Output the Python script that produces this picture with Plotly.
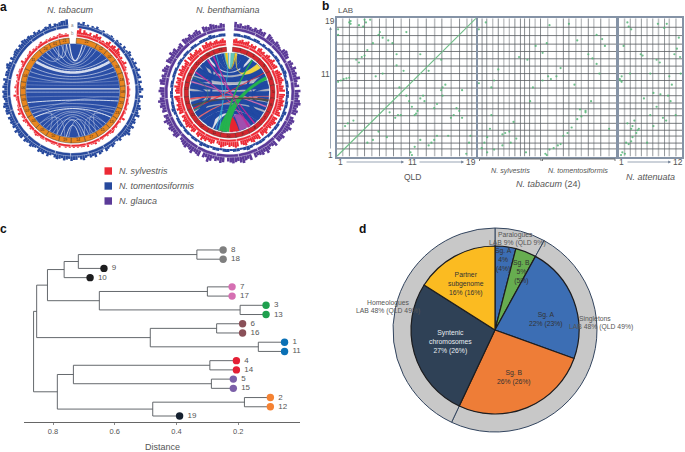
import math
import plotly.graph_objects as go

W, H = 685, 452
FONT = "Liberation Sans"
TXT = "#555555"

# ---------- panel a data ----------
tab_blue = [4,3,5,2,3,1,3,2,4,2,2,3,1,2,2,3,2,1,3,2,3,1,4,2,3,5,4,2,4,3,5,3,4,6,3,4,5,2,5,3,4,6,4,2,6,3,4,3,5,6,4,5,7,3,5,6,4,7,5,6,8,5,4,3,5,3,2,4,5,3,4,5,2,4,5,3,6,4,5,3,4,6,5,3,5,5,6,4,5,6,4,5,6,5,3,4,6,4,6,5,6,3,4,5,6,4,5,6,3,6,6,5,7,4,6,5,6,5,6,3,6,6,5,7,6,4,5,6,5,6,4,6,5,4,6,3,5,5,4,6,7,5,3,6,4,5,6,6,4,6,5,7,6,5,6,5,4,6,4,5,3,4,5,4,6,3,5,4,5,6,6,7]
tab_red = [5,7,3,6,4,3,5,2,4,6,4,5,2,3,2,4,6,3,5,6,4,7,5,4,3,4,2,3,5,2,3,2,1,2,1,1,2,1,2,1,1,2,1,1,2,1,1,1,2,1,1,2,1,2,1,1,4,1,2,1,1,2,1,2,3,2,1,2,1,1,2,1,2,1,3,2,2,1,3,1,2,2,1,2,1,2,1,2,1,2,1,1,3,2,1,2,2,1,1,2,1,2,2,1,2,3,2,1,1,2,1,2,1,2,3,1,2,1,4,2,3,2,2,1,1,2,2,4,1,2,1,3,2,1,2,1,2,3,1,2,2,1,1,2,4,1,2,1,2,2,3,1,2,1,2,1,2,3,1,1,2,1,2,1,2,1,2,3,2,1,2,1]
ben_purple = [7,5,6,4,5,6,5,4,6,5,7,5,6,1,7,6,5,4,6,5,4,3,6,7,6,5,1,5,6,4,7,5,6,5,8,5,4,6,1,7,5,6,5,7,8,6,5,7,6,1,5,7,6,5,8,6,5,4,7,6,6,1,7,5,4,6,8,5,7,6,5,6,1,7,5,6,8,7,5,6,7,6,5,1,6,7,5,6,4,7,9,5,6,1,7,6,5,8,6,5,7,6,5,4,1,6,7,5,6,7,5,6,8,5,6,1,6,5,7,6,8,6,4,5,7,6,1,6,7,5,6,4,7,6,5,1,7,6,5,8,6,7,4,5,6,1,7,6,5,7,5,6,7,5,1,7,6,5,7,6,5,4,6,5]
ben_blue = [3,3,2,3,3,2,3,3,2,3,2,3,3,2,3,3,2,3,3,4,3,2,3,3,2,3,3,2,3,3,2,4,3,3,2,3,3,2,3,3,2,3,3,3,2,3,4,3,2,3,3,2,3,3,2,3,3,2,3,3,4,2,3,3,2,3,3,2,3,3,3,2,3,4,3,3,2,3,3,2,3,3,2,3,3,3,2,3,3,2,3,3,2,3,3,2,3,3,3,4,3,2,3,3]
ben_red = [5,6,4,5,6,4,5,6,3,5,4,5,1,5,6,4,5,3,5,6,4,5,7,4,5,6,1,5,6,7,5,6,7,5,4,6,5,7,1,7,6,5,7,6,7,5,6,4,6,7,1,6,5,7,6,5,6,4,5,7,5,6,1,7,6,5,7,6,4,5,7,6,5,1,6,7,6,5,6,4,5,6,7,5,4,1,5,6,5,4,6,5,7,4,6,5,1,5,6,4,5,7,6,5,6,4,5,1,6,5,7,5,6,4,5,6,7,1,5,6,5,7,4,6,5,6,1,6,5,7,5,6,4,5,7,1,6,5,7,4,5,6,4,5,1,6,5,7,5,6,4,5,6,4,5,6,4]

tab_labels = ["22","12","02","16","18","08","20","23","13","15","17","14","19","10","05","03","07","09","06","04","11","24","01","21"]
tab_sizes = [24,13,14,16,15,13,13,12,13,16,15,16,14,15,14,15,13,13,15,15,26,13,12,11]
ben_labels = [str(i) for i in range(1, 20)]
ben_sizes = [20,18,20,18,17,19,19,18,18,20,18,19,18,17,19,19,18,18,17]

tab_white_start = [-52,-47,-60,-66,-72,-88,-92,-105,-112,-120,-125,-4,-8,-14,-22,-30,-35,-25,-35,-42,165,160,150,145,140,135,172,168,155,-115,-125,115,125,-135,135,-78,-83,-98,98]
tab_white_end = [52,47,60,66,72,88,92,103,112,120,125,12,16,25,22,30,38,-8,-12,-18,195,200,210,215,220,225,188,205,185,-150,-160,150,158,-170,165,78,83,98,-120]
tab_white_width = [2.6,.7,.7,.6,.5,1.4,.6,1.0,.5,.5,1.0,1.2,.7,.6,.6,.5,.5,.8,.6,.5,.8,.6,.6,.5,.5,.4,.9,.5,.5,.4,.4,.4,.4,.4,.4,.3,.3,.3,.3]
tab_white_bend = [.26,.3,.2,.2,.15,1,1,.7,.5,.4,.35,.3,.3,.25,.2,.2,.2,.5,.5,.5,.3,.2,.2,.15,.15,.1,.5,.3,.3,.4,.4,.4,.4,.4,.4,.6,.8,.8,.3]

# ribbons: start-a, start-b, end-a, end-b, colour name
ben_gray_rib = [(-70,-64,64,70),(-105,-98,98,105),(-88,-84,84,88),(-120,-117,117,120),(-50,-44,44,50),(-58,-54,-112,-106),(52,56,108,112)]
ben_blue_rib = [(-84,-72,72,84),(-98,-88,88,98),(-30,-20,20,30),(-44,-34,34,44),(-20,-12,12,20),(-64,-50,50,64),(-117,-105,105,117),(-132,-120,120,132),(-148,-136,138,150),(-170,-156,156,170),(-12,-7,7,12),(-154,-146,-128,-120),(-48,-42,-128,-120),(43,49,126,134),(-176,-168,136,142),(-26,-18,-60,-52),(18,26,52,60),(-136,-130,130,136),(-38,-32,-74,-66),(62,68,98,104),(-110,-104,-84,-78),(110,116,78,84)]
ben_color_rib = [
    (147,165,175,178,"#a04fb0"),(-60,-58,150,152,"#c03a9a"),(-35,-33,140,142,"#c0279a"),(-75,-73,110,112,"#d070b0"),
    (166,180,190,196,"#e8242f"),(-100,-98,100,102,"#e8505a"),(-115,-113,60,61,"#e8303f"),(-130,-128,95,96,"#e86a70"),
    (2,8,-8,-4,"#62c4b8"),(-6,-3,8,10,"#f5c518"),(44,52,9,11,"#f0d440"),
    (181,197,66,71,"#25b24f"),(187,191,34,36,"#25b24f"),(-2,-1,200,201,"#3fb4d8"),(-20,-19,195,196,"#3fb4d8"),
    (-110,-108,100,103,"#4a4f4a"),(-68,-67,-118,-116,"#3d7f70"),(-25,-23,150,151,"#c0279a"),
]

# ---------- panel b data (cumulative chromosome boundaries, % of genome) ----------
qld_bounds = [4.3,9.1,14.9,20,25.2,30.7,35.5,40.8,46.3,52.3,58.3,64.3,70.3,75.5,82.2,88.2,93.5,97]
lab_bounds = [5.5,9.7,14.8,19,24,29.5,34.5,38.7,44,49.5,55,60,65.4,70.7,76,81.3,87.5,93.5]
tab_bounds = [3.3,6.7,11,15,19,23,27,31,34,37.6,41.6,45.5,50.7,57,62,66,71,75,80,84,89,95]
att_bounds = [9.5,18.5,27,36,45,54,63,72.5,80,90.5]
tab_dark = [3.3,6.7,15,27,31,34,37.6,45.5,62,66,80,89]

qld_line_x = [0, 100]
qld_line_y = [0, 100]
qld_x = [9,10,10,20,21,24,16,19,1,1,1,3,5,7,9,14,16,18,20,22,26,30,31,33,37,40,43,45,50,52,54,56,57,58,60,62,63,70,72,75,76,78,53,54,93,95,96,82,84,86,88,90,80,72,70,68,66,60,56,46,44,42,38,30,26,22,12,8,6,33,48,75,60,36,76,90,43,50,28,66]
qld_y = [97,96,98,99,97,99,95,94,92,88,54,55,56,56.5,57,70,68,72,73,77,82,88,90,86,84,82,74,50,44,40,36,30,31,33,42,44,40,35,38,48,50,52,3,1,2,10,15,28,30,35,33,28,15,15,12,10,8,12,7,30,30,28,32,18,12,10,26,24,22,60,62,70,74,14,44,48,66,90,58,62]
tabc_x = [6,7,12,18,24,28,35,38,26,23,20,18,15,12,10,9,7,5,3,30,42,47,51,49,50,52,55,58,60,62,65,68,72,75,78,80,83,86,90,92,82,78,74,70,60,57,53,50,47,1,1,36,40,10,52,66,72,86,88,95]
tabc_y = [97,3,5,8,10,13,3,40,25,18,17,16,63,55,50,20,14,10,6,72,80,75,58,2,1,5,6,8,9,15,17,21,27,29,32,74,71,88,85,80,40,33,34,52,64,58,56,82,55,53,92,70,50,30,95,96,84,67,60,20]
att_x = [14,16,20,5,3,2,5,35,38,30,28,32,25,22,20,22,20,40,50,55,60,66,70,75,80,84,88,92,8,12,16,45,50,62,72,78,90,95,6,10,4,60,65,76,82,97,98,14,18,55]
att_y = [97,94,92,54,55,56,58,74,73,19,17,20,26,22,20,14,11,42,60,46,36,45,28,26,58,52,74,78,80,10,9,10,30,96,93,44,30,86,3,2,1,70,68,96,40,72,60,24,60,22]

# ---------- panel c data ----------
leaf_names = ["8","18","9","10","7","17","3","13","6","16","1","11","4","14","5","15","2","12","19"]
leaf_dist = [.249,.249,.635,.68,.22,.22,.11,.11,.186,.186,.05,.05,.206,.206,.216,.216,.096,.096,.39]
leaf_colors = ["#7f7f7f","#7f7f7f","#1d1d1f","#1d1d1f","#d56fb2","#d56fb2","#1fa04e","#1fa04e","#8a5058","#8a5058","#0a70b5","#0a70b5","#e41f35","#e41f35","#7b5fa8","#7b5fa8","#f58232","#f58232","#15202f"]
# each join: (left child, right child, distance); children are leaves (int) or earlier joins ("nK")
joins = [(0,1,.334),("n0",2,.718),("n1",3,.764),(4,5,.30),(6,7,.194),("n3","n4",.65),("n2","n5",.818),
         (8,9,.27),(10,11,.135),("n7","n8",.485),("n6","n9",.853),
         (12,13,.292),(14,15,.287),("n11","n12",.734),(16,17,.18),("n14",18,.477),("n13","n15",.786),("n10","n16",.863)]
dist_ticks = [.8,.6,.4,.2]

# ---------- panel d data ----------
outer_labels = ["Paralogues","Singletons","Homeologues"]
outer_values = [8,49,43]
inner_labels = ["Sg. A (para)","Sg. B (para)","Sg. A","Sg. B","Syntenic chromosomes","Partner subgenome"]
inner_values = [4,4,22.5,26.5,27,16]
inner_colors = ["#3c6eb4","#67ad50","#3c6eb4","#ee7d37","#2f4156","#fbbb21"]


def dx(a, b):
    return [a / W, b / W]


def dy(top, bot):
    return [1 - bot / H, 1 - top / H]


def px(x):
    return x / W


def py(y):
    return 1 - y / H


fig = go.Figure()


def bezier(t1, t2, r, k, n=24):
    x1, y1 = r * math.sin(math.radians(t1)), r * math.cos(math.radians(t1))
    x2, y2 = r * math.sin(math.radians(t2)), r * math.cos(math.radians(t2))
    cx, cy = k * (x1 + x2) / 2, k * (y1 + y2) / 2
    rs, ts = [], []
    for i in range(n + 1):
        u = i / n
        x = (1 - u) ** 2 * x1 + 2 * u * (1 - u) * cx + u ** 2 * x2
        y = (1 - u) ** 2 * y1 + 2 * u * (1 - u) * cy + u ** 2 * y2
        rs.append(math.hypot(x, y))
        ts.append(math.degrees(math.atan2(x, y)))
    return rs, ts


def circle(sp, r, color):
    ts = [i * 3 for i in range(121)]
    fig.add_trace(go.Scatterpolar(r=[r] * 121, theta=ts, mode="lines", fill="toself", fillcolor=color,
                                  line=dict(color=color, width=0.5), subplot=sp, hoverinfo="skip"))


def hist(sp, values, base, color, lo=4, hi=356):
    step = (hi - lo) / len(values)
    fig.add_trace(go.Barpolar(r=values, base=[base] * len(values),
                              theta=[lo + step * (i + .5) for i in range(len(values))],
                              width=[step] * len(values), marker=dict(color=color, line=dict(width=0)),
                              subplot=sp, hoverinfo="skip"))


def ring(sp, sizes, labels, r0, r1, color, edge, lo=4, hi=356, lw=.5):
    tot = sum(sizes)
    pos, th, wd = lo, [], []
    for s in sizes:
        w = s * (hi - lo) / tot
        th.append(pos + w / 2)
        wd.append(w)
        pos += w
    fig.add_trace(go.Barpolar(r=[r1 - r0] * len(sizes), base=[r0] * len(sizes), theta=th, width=wd,
                              marker=dict(color=color, line=dict(color=edge, width=lw)),
                              subplot=sp, hoverinfo="skip"))
    if labels:
        fig.add_trace(go.Scatterpolar(r=[(r0 + r1) / 2] * len(sizes), theta=th, mode="text", text=labels,
                                      textfont=dict(size=3.6, color="#3a2a20", family=FONT), subplot=sp, hoverinfo="skip"))


def ribbon(sp, a1, a2, b1, b2, r, color, k=.2):
    r1, t1 = bezier(a1, b2, r, k)
    r2, t2 = bezier(b1, a2, r, k)
    fig.add_trace(go.Scatterpolar(r=r1 + r2 + [r1[0]], theta=t1 + t2 + [t1[0]], mode="lines", fill="toself",
                                  fillcolor=color, line=dict(color=color, width=0.2), subplot=sp, hoverinfo="skip"))


# --- N. tabacum
hist("polar", tab_blue, 64.5, "#27499d")
ring("polar", tab_sizes, None, 62.5, 65.5, "#27499d", "#ffffff", lw=.4)
hist("polar", tab_red, 55.5, "#ec2a35")
ring("polar", tab_sizes, None, 54, 56.5, "#ec2a35", "#ffffff", lw=.4)
ring("polar", tab_sizes, tab_labels, 47.2, 52.6, "#e8861f", "#4b3a28")
circle("polar", 46.6, "#2a4ea6")
for s, e, w, k in zip(tab_white_start, tab_white_end, tab_white_width, tab_white_bend):
    r_, t_ = bezier(s, e, 46.6, k)
    fig.add_trace(go.Scatterpolar(r=r_, theta=t_, mode="lines", line=dict(color="rgba(238,241,248,.88)", width=w),
                                  subplot="polar", hoverinfo="skip"))

# --- N. benthamiana
hist("polar2", ben_purple, 64, "#5b3a98")
ring("polar2", ben_sizes, None, 61.8, 65, "#5b3a98", "#ffffff", lw=.4)
hist("polar2", ben_blue, 56.5, "#27499d")
hist("polar2", ben_red, 48.5, "#ec2a35")
ring("polar2", ben_sizes, None, 47, 49.5, "#ec2a35", "#ffffff", lw=.4)
ring("polar2", ben_sizes, ben_labels, 41, 45.5, "#d4262e", "#5a2a2a")
circle("polar2", 39.6, "#dfe1e8")
for a1, a2, b1, b2 in ben_gray_rib:
    ribbon("polar2", a1, a2, b1, b2, 39.6, "#b4b7c2")
for a1, a2, b1, b2 in ben_blue_rib:
    ribbon("polar2", a1, a2, b1, b2, 39.6, "#2149a3")
for a1, a2, b1, b2, c in ben_color_rib:
    ribbon("polar2", a1, a2, b1, b2, 39.6, c)


# --- dot plots
def grid(xa, ya, vals, vertical, color, width):
    xs, ys = [], []
    for v in vals:
        if vertical:
            xs += [v, v, None]; ys += [0, 100, None]
        else:
            xs += [0, 100, None]; ys += [v, v, None]
    fig.add_trace(go.Scatter(x=xs, y=ys, xaxis=xa, yaxis=ya, mode="lines", line=dict(color=color, width=width),
                             hoverinfo="skip"))


def dots(xa, ya, x, y):
    fig.add_trace(go.Scatter(x=x, y=y, xaxis=xa, yaxis=ya, mode="markers",
                             marker=dict(color="#55b577", size=2.2, opacity=.85, line=dict(width=0)), hoverinfo="skip"))


qld_light = qld_bounds[::2]
qld_darkv = qld_bounds[1::2]
grid("x", "y", qld_light, True, "#bcbec0", 1.5)
grid("x", "y", qld_darkv, True, "#6a6f73", .8)
grid("x", "y", lab_bounds, False, "#55595d", .8)
fig.add_trace(go.Scatter(x=qld_line_x, y=qld_line_y, xaxis="x", yaxis="y", mode="lines",
                         line=dict(color="#6fbd88", width=1.1), hoverinfo="skip"))
dots("x", "y", qld_x, qld_y)

grid("x2", "y2", [v for v in tab_bounds if v not in tab_dark], True, "#bcbec0", 1.3)
grid("x2", "y2", tab_dark, True, "#6a6f73", .8)
grid("x2", "y2", lab_bounds, False, "#55595d", .8)
dots("x2", "y2", tabc_x, tabc_y)

grid("x3", "y3", att_bounds[::2], True, "#bcbec0", 1.5)
grid("x3", "y3", att_bounds[1::2], True, "#7a7f83", .8)
grid("x3", "y3", lab_bounds, False, "#55595d", .8)
dots("x3", "y3", att_x, att_y)

# --- dendrogram
pos = []
seg_x, seg_y = [], []


def where(c):
    if isinstance(c, int):
        return leaf_dist[c], c
    return pos[int(c[1:])]


for a, b, d in joins:
    xa_, ya_ = where(a)
    xb_, yb_ = where(b)
    seg_x += [xa_, d, d, xb_, None]
    seg_y += [ya_, ya_, yb_, yb_, None]
    pos.append((d, (ya_ + yb_) / 2))
leaf_y = list(range(len(leaf_names)))
fig.add_trace(go.Scatter(x=seg_x, y=seg_y, xaxis="x4", yaxis="y4", mode="lines",
                         line=dict(color="#54585c", width=.9), hoverinfo="skip"))
fig.add_trace(go.Scatter(x=leaf_dist, y=leaf_y, xaxis="x4", yaxis="y4", mode="markers+text", cliponaxis=False,
                         text=[" " + n for n in leaf_names], textposition="middle right",
                         textfont=dict(size=8, color=TXT, family=FONT),
                         marker=dict(color=leaf_colors, size=7.4, line=dict(width=0)), hoverinfo="skip"))

# --- nested pie
fig.add_trace(go.Pie(labels=outer_labels, values=outer_values, sort=False, direction="clockwise", rotation=0,
                     hole=.82, textinfo="none", hoverinfo="skip", showlegend=False,
                     marker=dict(colors=["#c8c8c8"] * 3, line=dict(color="#33455f", width=1)),
                     domain=dict(x=dx(393, 597), y=dy(228, 432))))
fig.add_trace(go.Pie(labels=inner_labels, values=inner_values, sort=False, direction="clockwise", rotation=0,
                     textinfo="none", hoverinfo="skip", showlegend=False,
                     marker=dict(colors=inner_colors, line=dict(color="#1d1d1f", width=1.2)),
                     domain=dict(x=dx(411, 579), y=dy(246, 414))))

polar_common = dict(bgcolor="rgba(0,0,0,0)", bargap=0,
                    angularaxis=dict(visible=False, rotation=90, direction="clockwise"))
FRAME = dict(showline=True, mirror=True, linecolor="#8593a6", linewidth=1.6, showgrid=False, zeroline=False,
             showticklabels=False, ticks="", range=[0, 100])
BX = (336.7, 476)
TX = (477.5, 616)
AX = (618.5, 682)
BY = (18.3, 156.5)

ann = []


def T(x, y, s, size=7, color=TXT, align="center", anchor="center", bold=False):
    ann.append(dict(x=px(x), y=py(y), xref="paper", yref="paper", text=f"<b>{s}</b>" if bold else s, showarrow=False,
                    font=dict(size=size, color=color, family=FONT), align=align, xanchor=anchor, yanchor="middle"))


def arrow(x0, y0, x1, y1):
    ann.append(dict(x=px(x1), y=py(y1), ax=x0 - x1, ay=y0 - y1, axref="pixel", ayref="pixel", xref="paper", yref="paper",
                    text="", showarrow=True, arrowhead=2, arrowsize=.8, arrowwidth=.7, arrowcolor="#6f7f95"))


for s, x, y in [("a", 4, 7), ("b", 325, 6), ("c", 4, 229), ("d", 362, 229)]:
    T(x, y, s, 12, "#111111", bold=True)
T(70, 10, "<i>N. tabacum</i>", 9)
T(228, 10, "<i>N. benthamiana</i>", 9)
T(72, 25.5, "a", 4.5, "#888888")
T(72, 33.5, "b", 4.5, "#888888")
T(117, 171, "<i>N. sylvestris</i>", 9, anchor="left")
T(117, 186, "<i>N. tomentosiformis</i>", 9, anchor="left")
T(117, 201, "<i>N. glauca</i>", 9, anchor="left")
legend_colors = ["#ec2a35", "#27499d", "#5b3a98"]
shapes = []
for c, y in zip(legend_colors, [171, 186, 201]):
    shapes.append(dict(type="rect", xref="paper", yref="paper", x0=px(104.5), x1=px(112), y0=py(y - 3.7), y1=py(y + 3.7),
                       fillcolor=c, line=dict(width=0)))

T(336, 10, "LAB", 8, anchor="left")
T(330, 21, "19", 8.5)
T(325, 74, "11", 8.5)
T(330, 155, "1", 8.5)
arrow(330.5, 150, 330.5, 27)
T(340, 162, "1", 8.5)
T(412, 162, "11", 8.5)
T(471, 162, "19", 8.5)
arrow(345, 162, 404, 162)
arrow(418, 162, 464, 162)
T(412, 177, "QLD", 8.5)
T(510, 170, "<i>N. sylvestris</i>", 7.2)
T(578, 170, "<i>N. tomentosiformis</i>", 7.2)
T(548, 184, "<i>N. tabacum</i> (24)", 9)
T(621, 162, "1", 8.5)
T(678, 162, "12", 8.5)
arrow(626, 162, 671, 162)
T(650, 177, "<i>N. attenuata</i>", 9)
for a, b in [(479.5, 541), (542.5, 615)]:
    shapes.append(dict(type="path", xref="paper", yref="paper",
                       path=f"M{px(a)},{py(161)} L{px(a)},{py(159)} L{px(b)},{py(159)} L{px(b)},{py(161)}",
                       line=dict(color="#555555", width=.8)))
T(162, 447, "Distance", 9)

T(515, 235, "Paralogues", 6.8)
T(517, 243, "LAB 9% (QLD 9%)", 6.8)
T(595, 319, "Singletons", 6.8)
T(601, 327, "LAB 48% (QLD 49%)", 6.8)
T(388.5, 303, "Homeologues", 6.8)
T(388, 311, "LAB 48% (QLD 49%)", 6.8)
T(504, 260, "Sg. A<br>4%<br>(4%)", 6.8, "#333333")
T(521, 272, "Sg. B<br>5%<br>(5%)", 6.8, "#333333")
T(546, 319, "Sg. A<br>22% (23%)", 6.8, "#333333")
T(514, 377, "Sg. B<br>26% (26%)", 6.8, "#333333")
T(450, 342, "Syntenic<br>chromosomes<br>27% (26%)", 6.8, "#e8ecf0")
T(466, 284, "Partner<br>subgenome<br>16% (16%)", 6.8, "#333333")

fig.update_layout(
    width=W, height=H, margin=dict(l=0, r=0, t=0, b=0), paper_bgcolor="white", plot_bgcolor="white",
    showlegend=False, annotations=ann, shapes=shapes, font=dict(family=FONT),
    polar=dict(domain=dict(x=dx(0.3, 145.3), y=dy(18, 163)),
               radialaxis=dict(visible=False, range=[0, 72.5]), **polar_common),
    polar2=dict(domain=dict(x=dx(156.5, 302.5), y=dy(19.5, 165.5)),
                radialaxis=dict(visible=False, range=[0, 73]), **polar_common),
    xaxis=dict(domain=dx(*BX), anchor="y", **FRAME),
    yaxis=dict(domain=dy(*BY), anchor="x", **FRAME),
    xaxis2=dict(domain=dx(*TX), anchor="y2", **FRAME),
    yaxis2=dict(domain=dy(*BY), anchor="x2", **FRAME),
    xaxis3=dict(domain=dx(*AX), anchor="y3", **FRAME),
    yaxis3=dict(domain=dy(*BY), anchor="x3", **FRAME),
    xaxis4=dict(domain=dx(24, 300), anchor="y4", range=[.894, 0], showline=True, linecolor="#666666", linewidth=.9,
                showgrid=False, zeroline=False, tickmode="array", tickvals=dist_ticks,
                ticktext=["0.8", "0.6", "0.4", "0.2"], ticks="outside", ticklen=2, tickcolor="#888888",
                tickfont=dict(size=7.5, color=TXT, family=FONT)),
    yaxis4=dict(domain=dy(240, 422), anchor="x4", range=[18.65, -1.08], visible=False),
)
fig.write_html("out.html", post_script="document.body.style.margin='0';", config={"displayModeBar": False})
